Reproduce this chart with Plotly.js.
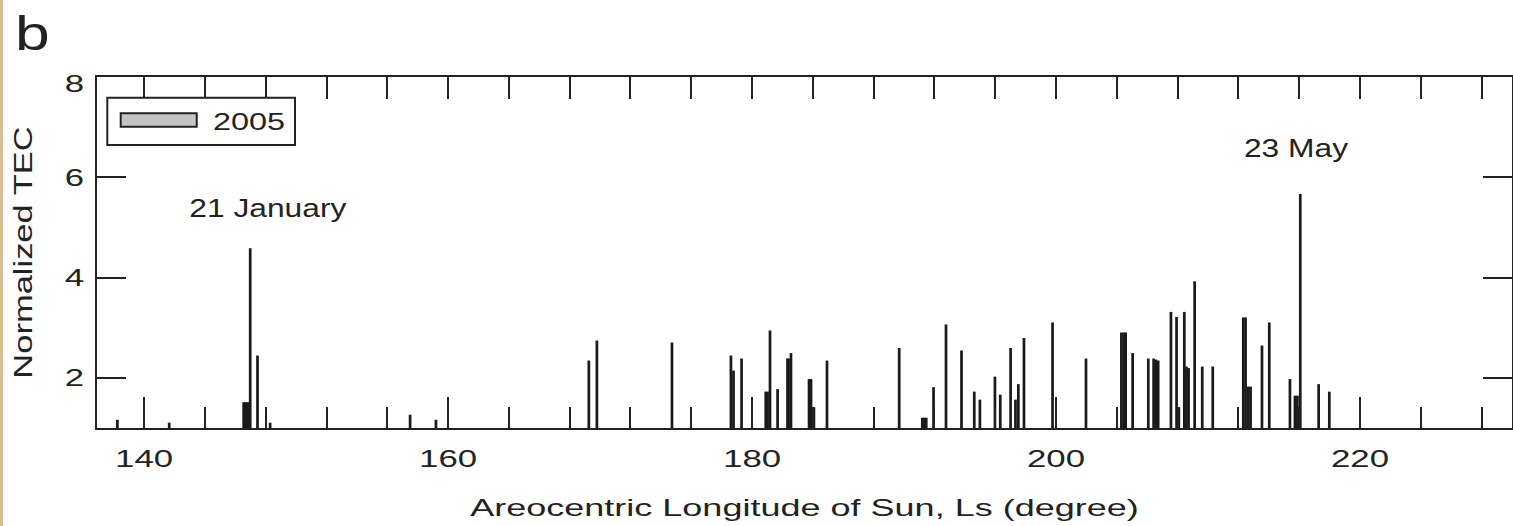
<!DOCTYPE html>
<html>
<head>
<meta charset="utf-8">
<script src="https://cdn.plot.ly/plotly-3.0.1.min.js"></script>
<style>
  html, body { margin: 0; padding: 0; background: #ffffff; }
  #chart { position: absolute; left: 0; top: 0; width: 1513px; height: 526px; }
  #edge { position: absolute; left: 0; top: 0; width: 3px; height: 526px; background: #d8bd98; z-index: 5; }
</style>
</head>
<body>
<div id="chart"></div>
<div id="edge"></div>
<script>
// Areocentric longitude of the Sun (degrees) for each TEC event
const ls = [138.24, 141.65, 146.55, 146.70, 146.85, 146.98, 147.46, 148.29, 157.50, 159.20,
            169.26, 169.79, 174.73, 178.61, 178.78, 179.31, 180.90, 181.02, 181.18, 181.68,
            182.33, 182.40, 182.56, 183.75, 183.88, 184.07, 184.93, 189.68, 191.20, 191.33,
            191.46, 191.94, 192.76, 193.78, 194.62, 194.99, 195.98, 196.33, 197.01, 197.33,
            197.52, 197.89, 199.77, 201.97, 204.30, 204.45, 204.58, 205.04, 206.07, 206.42,
            206.57, 206.72, 207.56, 207.93, 208.08, 208.44, 208.58, 208.72, 209.12, 209.62,
            210.31, 212.32, 212.47, 212.65, 212.80, 213.55, 214.03, 215.39, 215.72, 215.88,
            216.07, 217.28, 217.98];
// Normalized total electron content for each event
const tec = [1.15, 1.09, 1.50, 1.50, 1.50, 4.57, 2.43, 1.09, 1.25, 1.15,
             2.33, 2.73, 2.69, 2.43, 2.13, 2.37, 1.71, 1.71, 2.93, 1.76,
             2.37, 2.37, 2.48, 1.96, 1.96, 1.40, 2.33, 2.58, 1.19, 1.19,
             1.19, 1.80, 3.05, 2.53, 1.71, 1.55, 2.01, 1.65, 2.58, 1.55,
             1.86, 2.78, 3.09, 2.37, 2.89, 2.89, 2.89, 2.48, 2.37, 2.37,
             2.35, 2.33, 3.30, 3.20, 1.40, 3.30, 2.21, 2.18, 3.91, 2.21,
             2.21, 3.19, 3.19, 1.81, 1.81, 2.63, 3.09, 1.96, 1.63, 1.63,
             5.65, 1.86, 1.71];
const seriesName = '2005';
const eventLabels = ['21 January', '23 May'];
const panelLabel = 'b';
const xTitle = 'Areocentric Longitude of Sun, Ls (degree)';
const yTitle = 'Normalized TEC';

const W = 1513, H = 526;
const M = { l: 97, r: 1, t: 77, b: 98 };
const PW = W - M.l - M.r, PH = H - M.t - M.b;
// pixel -> paper helpers for the legend box and labels
const px = v => (v - M.l) / PW;
const py = v => (H - M.b - v) / PH;

const ink = '#222222';
const font = 'Liberation Sans, Arial, Helvetica, sans-serif';

const traces = [
  {
    type: 'bar', x: ls, y: tec, width: 0.08,
    marker: { color: '#c4c4c4', line: { color: '#1a1a1a', width: 1.5 } },
    name: seriesName, showlegend: false, hoverinfo: 'x+y'
  },
  // carries the top axis
  { type: 'scatter', x: [], y: [], xaxis: 'x2', yaxis: 'y', showlegend: false, hoverinfo: 'skip' }
];

const xr = [136.9, 230];
const layout = {
  width: W, height: H, margin: M,
  paper_bgcolor: '#ffffff', plot_bgcolor: '#ffffff',
  font: { family: font, color: ink, size: 24 },
  showlegend: false, bargap: 0,
  xaxis: {
    range: xr, tick0: 0, dtick: 20, ticks: 'inside', ticklen: 31, tickwidth: 2, tickcolor: ink,
    minor: { tick0: 0, dtick: 4, ticks: 'inside', ticklen: 21, tickwidth: 2, tickcolor: ink, showgrid: false },
    showline: true, mirror: true, linecolor: ink, linewidth: 2,
    showgrid: false, zeroline: false, automargin: false,
    tickfont: { size: 24, color: ink }, ticklabelstandoff: 8,
    title: { text: xTitle, font: { size: 24.5, color: ink }, standoff: 28 }
  },
  xaxis2: {
    range: xr, overlaying: 'x', side: 'top', tick0: 0, dtick: 4,
    ticks: 'inside', ticklen: 22, tickwidth: 2, tickcolor: ink,
    showticklabels: false, showline: false, showgrid: false, zeroline: false, automargin: false
  },
  yaxis: {
    range: [1, 8], tick0: 0, dtick: 2, ticks: 'inside', ticklen: 29, tickwidth: 2, tickcolor: ink,
    showline: true, mirror: 'ticks', linecolor: ink, linewidth: 2,
    showgrid: false, zeroline: false, automargin: false,
    tickfont: { size: 24, color: ink }, ticklabelstandoff: 6,
    title: { text: yTitle, font: { size: 25, color: ink }, standoff: 31 }
  },
  shapes: [
    { type: 'rect', xref: 'paper', yref: 'paper', x0: px(107.3), x1: px(295), y0: py(145), y1: py(97.7),
      line: { color: ink, width: 2 }, fillcolor: '#ffffff' },
    { type: 'rect', xref: 'paper', yref: 'paper', x0: px(120.7), x1: px(196.7), y0: py(126.7), y1: py(113.3),
      line: { color: ink, width: 2 }, fillcolor: '#c4c4c4' }
  ],
  annotations: [
    { xref: 'paper', yref: 'paper', x: px(211), y: py(121), xanchor: 'left', yanchor: 'middle', align: 'left',
      text: seriesName, showarrow: false, font: { size: 24, color: ink }, name: 'legend' },
    { xref: 'paper', yref: 'paper', x: px(267.5), y: py(208), xanchor: 'center', yanchor: 'middle',
      text: eventLabels[0], showarrow: false, font: { size: 25, color: ink }, name: 'event' },
    { xref: 'paper', yref: 'paper', x: px(1295.8), y: py(148.3), xanchor: 'center', yanchor: 'middle',
      text: eventLabels[1], showarrow: false, font: { size: 25, color: ink }, name: 'event' },
    { xref: 'paper', yref: 'paper', x: px(13), y: py(34), xanchor: 'left', yanchor: 'middle', align: 'left',
      text: panelLabel, showarrow: false, font: { size: 48, color: ink }, name: 'panel' }
  ]
};

// The figure lettering is set in a wide face: widen each label along its baseline,
// keeping its anchor point fixed.
function widen(el, s, dy) {
  const x = parseFloat(el.getAttribute('x')) || 0;
  const y = parseFloat(el.getAttribute('y')) || 0;
  const t = el.getAttribute('transform') || '';
  el.setAttribute('transform', t + ' translate(' + x + ',' + (y + (dy || 0)) + ') scale(' + s + ',1) translate(' + (-x) + ',' + (-y) + ')');
}

Plotly.newPlot('chart', traces, layout, { staticPlot: true }).then(gd => {
  gd.querySelectorAll('g.xtick > text').forEach(el => widen(el, 1.45));
  // the top label of the y axis sits just inside the frame
  gd.querySelectorAll('g.ytick > text').forEach(el => widen(el, 1.45, el.textContent === '8' ? 7 : 0));
  gd.querySelectorAll('text.xtitle').forEach(el => widen(el, 1.47));
  gd.querySelectorAll('text.ytitle').forEach(el => widen(el, 1.38));
  const ann = gd.querySelectorAll('g.annotation');
  const factors = [1.35, 1.27, 1.27, 1.3];
  ann.forEach((g, i) => {
    g.querySelectorAll('text').forEach(el => widen(el, factors[i] || 1.3));
  });
});
</script>
</body>
</html>
